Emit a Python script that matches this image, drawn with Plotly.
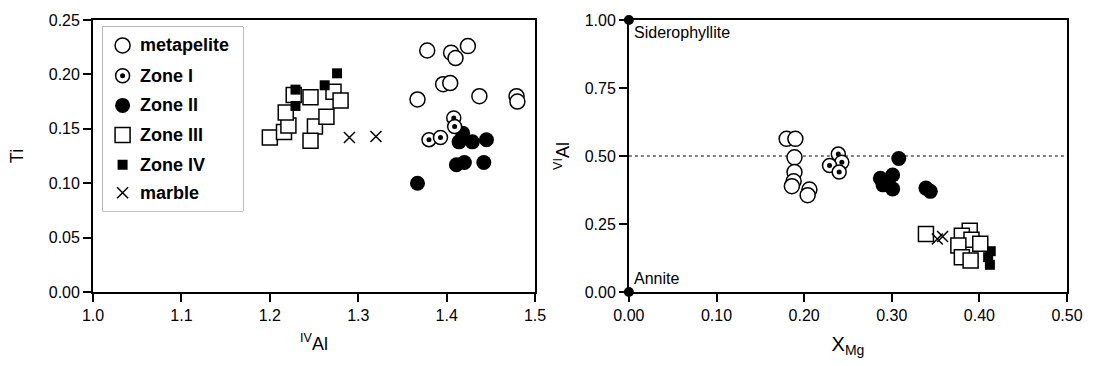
import plotly.graph_objects as go

# ---------------- data: left panel (IVAl vs Ti) ----------------
meta_iv = [1.378, 1.405, 1.410, 1.424, 1.396, 1.404, 1.367, 1.437, 1.479, 1.480]
meta_ti = [0.222, 0.220, 0.215, 0.226, 0.191, 0.192, 0.177, 0.180, 0.180, 0.175]
z1_iv = [1.408, 1.409, 1.380, 1.393]
z1_ti = [0.160, 0.152, 0.140, 0.142]
z2_iv = [1.418, 1.414, 1.429, 1.445, 1.411, 1.420, 1.442, 1.367]
z2_ti = [0.146, 0.138, 0.138, 0.140, 0.117, 0.119, 0.119, 0.100]
z3_iv = [1.200, 1.216, 1.221, 1.218, 1.227, 1.246, 1.251, 1.246, 1.264, 1.272, 1.280]
z3_ti = [0.142, 0.147, 0.153, 0.165, 0.181, 0.179, 0.152, 0.139, 0.161, 0.184, 0.176]
z4_iv = [1.229, 1.229, 1.262, 1.276]
z4_ti = [0.186, 0.171, 0.190, 0.201]
marble_iv = [1.290, 1.320]
marble_ti = [0.142, 0.143]

# ---------------- data: right panel (XMg vs VIAl) ----------------
meta_x = [0.180, 0.190, 0.189, 0.189, 0.188, 0.186, 0.206, 0.204]
meta_y = [0.563, 0.563, 0.495, 0.441, 0.407, 0.389, 0.377, 0.356]
z1_x = [0.239, 0.243, 0.229, 0.240]
z1_y = [0.507, 0.477, 0.465, 0.441]
z2_x = [0.308, 0.287, 0.301, 0.290, 0.301, 0.339, 0.344]
z2_y = [0.491, 0.418, 0.430, 0.394, 0.379, 0.382, 0.370]
z3_x = [0.339, 0.389, 0.380, 0.391, 0.401, 0.376, 0.380, 0.390]
z3_y = [0.213, 0.225, 0.207, 0.192, 0.177, 0.171, 0.128, 0.116]
z4_x = [0.413, 0.410, 0.412]
z4_y = [0.150, 0.128, 0.100]
marble_x = [0.352, 0.358]
marble_y = [0.195, 0.204]
end_x = [0.0, 0.0]
end_y = [1.0, 0.0]
end_names = ["Siderophyllite", "Annite"]

legend_names = ["metapelite", "Zone I", "Zone II", "Zone III", "Zone IV", "marble"]

# ---------------- styles ----------------
OPEN_C = dict(symbol="circle", size=15, color="white", line=dict(color="black", width=1.5))
DOTC = dict(symbol="circle", size=14, color="white", line=dict(color="black", width=1.5))
DOT = dict(symbol="circle", size=5, color="black", line=dict(width=0))
FILL_C = dict(symbol="circle", size=15, color="black", line=dict(color="black", width=0))
OPEN_S = dict(symbol="square", size=15, color="white", line=dict(color="black", width=1.5))
FILL_S = dict(symbol="square", size=10, color="black", line=dict(width=0))
XMARK = dict(symbol="x-thin", size=11, color="black", line=dict(color="black", width=1.5))

FAM = "Liberation Sans, Arial"

fig = go.Figure()

def add(x, y, marker, xa, ya):
    fig.add_trace(go.Scatter(x=x, y=y, mode="markers", marker=marker,
                             xaxis=xa, yaxis=ya, showlegend=False,
                             cliponaxis=False, hoverinfo="skip"))

# left panel
add(z2_iv, z2_ti, FILL_C, "x", "y")
add(z3_iv, z3_ti, OPEN_S, "x", "y")
add(z4_iv, z4_ti, FILL_S, "x", "y")
add(meta_iv, meta_ti, OPEN_C, "x", "y")
add(z1_iv, z1_ti, DOTC, "x", "y")
add(z1_iv, z1_ti, DOT, "x", "y")
add(marble_iv, marble_ti, XMARK, "x", "y")

# right panel
add(meta_x, meta_y, OPEN_C, "x2", "y2")
add(z1_x, z1_y, DOTC, "x2", "y2")
add(z1_x, z1_y, DOT, "x2", "y2")
add(z2_x, z2_y, FILL_C, "x2", "y2")
add(z4_x, z4_y, FILL_S, "x2", "y2")
add(z3_x, z3_y, OPEN_S, "x2", "y2")
add(marble_x, marble_y, XMARK, "x2", "y2")
add(end_x, end_y, dict(symbol="circle", size=10, color="black"), "x2", "y2")

# manual legend (hidden pixel-like axes x3/y3)
leg_rows = [42.7, 73.3, 103.3, 133.3, 163.3, 191.7]
leg_markers = [OPEN_C, DOTC, FILL_C, OPEN_S, FILL_S, XMARK]
for r, m in zip(leg_rows, leg_markers):
    add([123], [r], m, "x3", "y3")
add([123], [leg_rows[1]], DOT, "x3", "y3")

annotations = []
for r, name in zip(leg_rows, legend_names):
    annotations.append(dict(x=139, y=r, xref="x3", yref="y3", text="<b>%s</b>" % name,
                            showarrow=False, xanchor="left", yanchor="middle",
                            font=dict(family=FAM, size=18, color="black")))

annotations.append(dict(x=end_x[0], y=end_y[0], xref="x2", yref="y2", text=end_names[0],
                        showarrow=False, xanchor="left", yanchor="top", xshift=3, yshift=-2,
                        font=dict(family=FAM, size=16, color="black")))
annotations.append(dict(x=end_x[1], y=end_y[1], xref="x2", yref="y2", text=end_names[1],
                        showarrow=False, xanchor="left", yanchor="bottom", xshift=3, yshift=3,
                        font=dict(family=FAM, size=16, color="black")))

FONT = dict(family=FAM, size=16, color="black")
axis_common = dict(showline=True, mirror=True, linecolor="black", linewidth=1.8,
                   ticks="outside", ticklen=8, tickwidth=1.5, tickcolor="black",
                   showgrid=False, zeroline=False, tickfont=FONT)

fig.update_layout(
    width=1095, height=366,
    margin=dict(l=93, r=15, t=17, b=74),
    paper_bgcolor="white", plot_bgcolor="white",
    font=FONT,
    xaxis=dict(domain=[0, 0.4539], range=[1.0, 1.5], tickvals=[1.0, 1.1, 1.2, 1.3, 1.4, 1.5],
               tickformat=".1f", anchor="y",
               title=dict(text="<sup>IV</sup>Al", font=dict(family=FAM, size=18),
                          standoff=14), **axis_common),
    yaxis=dict(domain=[0, 1], range=[0, 0.25], tickvals=[0, 0.05, 0.10, 0.15, 0.20, 0.25],
               tickformat=".2f", anchor="x",
               title=dict(text="Ti", font=dict(family=FAM, size=18),
                          standoff=20), **axis_common),
    xaxis2=dict(domain=[0.5502, 1], range=[0, 0.5], tickvals=[0, 0.1, 0.2, 0.3, 0.4, 0.5],
                tickformat=".2f", anchor="y2",
                title=dict(text="X<sub>Mg</sub>", font=dict(family=FAM, size=20),
                           standoff=14), **axis_common),
    yaxis2=dict(domain=[0, 1], range=[0, 1], tickvals=[0, 0.25, 0.5, 0.75, 1.0],
                tickformat=".2f", anchor="x2",
                title=dict(text="<sup>VI</sup>Al", font=dict(family=FAM, size=18),
                           standoff=10), **axis_common),
    xaxis3=dict(domain=[0.0098, 0.154], range=[102.7, 245], visible=False, anchor="y3"),
    yaxis3=dict(domain=[0.298, 0.9745], range=[210, 24], visible=False, anchor="x3"),
    annotations=annotations,
    shapes=[
        dict(type="rect", xref="paper", yref="paper", x0=0.0098, x1=0.154, y0=0.298, y1=0.9745,
             line=dict(color="#777777", width=1), fillcolor="rgba(0,0,0,0)", layer="below"),
        dict(type="line", xref="x2", yref="y2", x0=0, x1=0.5, y0=0.5, y1=0.5,
             line=dict(color="black", width=1, dash="dot"), layer="below"),
    ],
)

fig.write_html("out.html")
